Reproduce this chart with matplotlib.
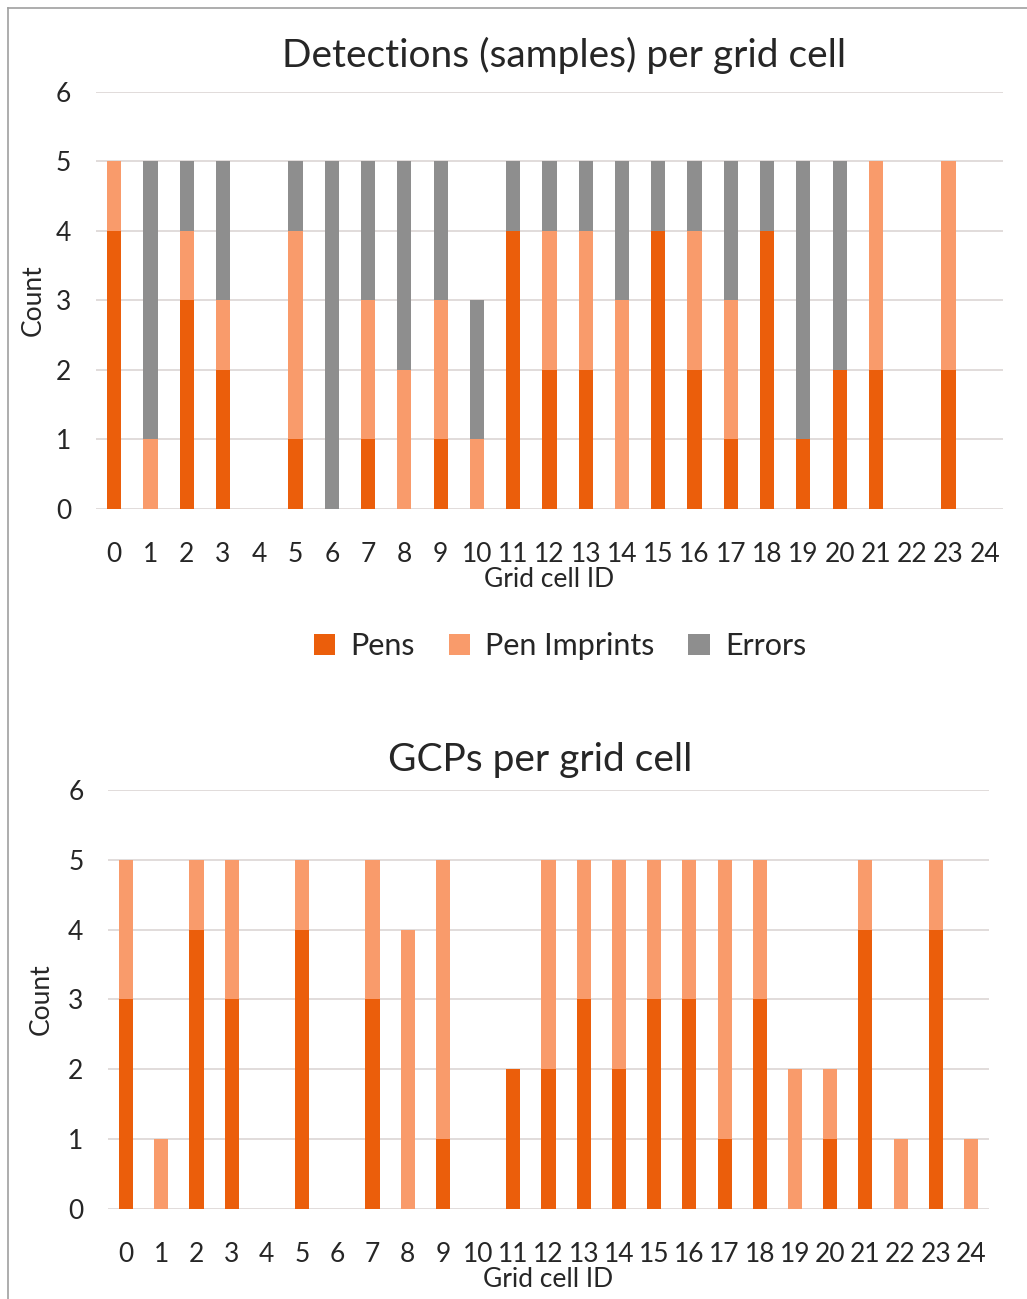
import matplotlib.pyplot as plt
import numpy as np
from matplotlib.lines import Line2D

plt.rcParams['font.family'] = ['Lato', 'DejaVu Sans']

cells = list(range(25))

# detections (samples) per grid cell
det_pens = [4, 0, 3, 2, 0, 1, 0, 1, 0, 1, 0, 4, 2, 2, 0, 4, 2, 1, 4, 1, 2, 2, 0, 2, 0]
det_imprints = [1, 1, 1, 1, 0, 3, 0, 2, 2, 2, 1, 0, 2, 2, 3, 0, 2, 2, 0, 0, 0, 3, 0, 3, 0]
det_errors = [0, 4, 1, 2, 0, 1, 5, 2, 3, 2, 2, 1, 1, 1, 2, 1, 1, 2, 1, 4, 3, 0, 0, 0, 0]

# GCPs per grid cell
gcp_pens = [3, 0, 4, 3, 0, 4, 0, 3, 0, 1, 0, 2, 2, 3, 2, 3, 3, 1, 3, 0, 1, 4, 0, 4, 0]
gcp_imprints = [2, 1, 1, 2, 0, 1, 0, 2, 4, 4, 0, 0, 3, 2, 3, 2, 2, 4, 2, 2, 1, 1, 1, 1, 1]

c_pens = '#EB5E0B'
c_imp = '#F99B6B'
c_err = '#8E8E8E'
txt = '#262626'

fig = plt.figure(figsize=(10.27, 12.99), dpi=100)

ax1 = fig.add_axes([0.0935, 0.6082, 0.883, 0.321])
ax2 = fig.add_axes([0.1056, 0.0693, 0.857, 0.3226])


def style(ax):
    ax.set_xlim(-0.5, 24.5)
    ax.set_ylim(0, 6)
    ax.set_yticks(range(7))
    ax.set_xticks(cells)
    ax.set_xticklabels([str(c) for c in cells])
    ax.yaxis.grid(True, color='#DCD6D4', lw=1.2)
    ax.set_axisbelow(True)
    for s in ax.spines.values():
        s.set_visible(False)
    ax.tick_params(axis='both', length=0, labelsize=19, colors=txt)
    ax.tick_params(axis='x', pad=24)
    ax.tick_params(axis='y', pad=18)


w = 0.39
x = np.arange(len(cells))
b_imp = [p + i for p, i in zip(det_pens, det_imprints)]
ax1.bar(x, det_pens, w, color=c_pens, label='Pens')
ax1.bar(x, det_imprints, w, bottom=det_pens, color=c_imp, label='Pen Imprints')
ax1.bar(x, det_errors, w, bottom=b_imp, color=c_err, label='Errors')
style(ax1)
ax1.set_xlabel('Grid cell ID', fontsize=19, color=txt, labelpad=0)
ax1.set_ylabel('Count', fontsize=19, color=txt, labelpad=7)

ax2.bar(x, gcp_pens, 0.4, color=c_pens)
ax2.bar(x, gcp_imprints, 0.4, bottom=gcp_pens, color=c_imp)
style(ax2)
ax2.set_xlabel('Grid cell ID', fontsize=19, color=txt, labelpad=0)
ax2.set_ylabel('Count', fontsize=19, color=txt, labelpad=10)

fig.text(564 / 1027, 1 - 55 / 1299, 'Detections (samples) per grid cell',
         ha='center', va='center', fontsize=28, color=txt)
fig.text(540 / 1027, 1 - 760 / 1299, 'GCPs per grid cell',
         ha='center', va='center', fontsize=28, color=txt)

fig.legend(loc='center', bbox_to_anchor=(560 / 1027, 1 - 646 / 1299), ncol=3,
           frameon=False, fontsize=22, handlelength=0.7, handleheight=0.7,
           handletextpad=0.5, columnspacing=1.1, labelcolor=txt)

# screenshot border on the left and top
fig.add_artist(Line2D([8 / 1027, 8 / 1027], [0, 1 - 8 / 1299], color='#A0A0A0', lw=1.2))
fig.add_artist(Line2D([8 / 1027, 1], [1 - 8 / 1299, 1 - 8 / 1299], color='#A0A0A0', lw=1.2))

plt.savefig('out.png', dpi=100)
